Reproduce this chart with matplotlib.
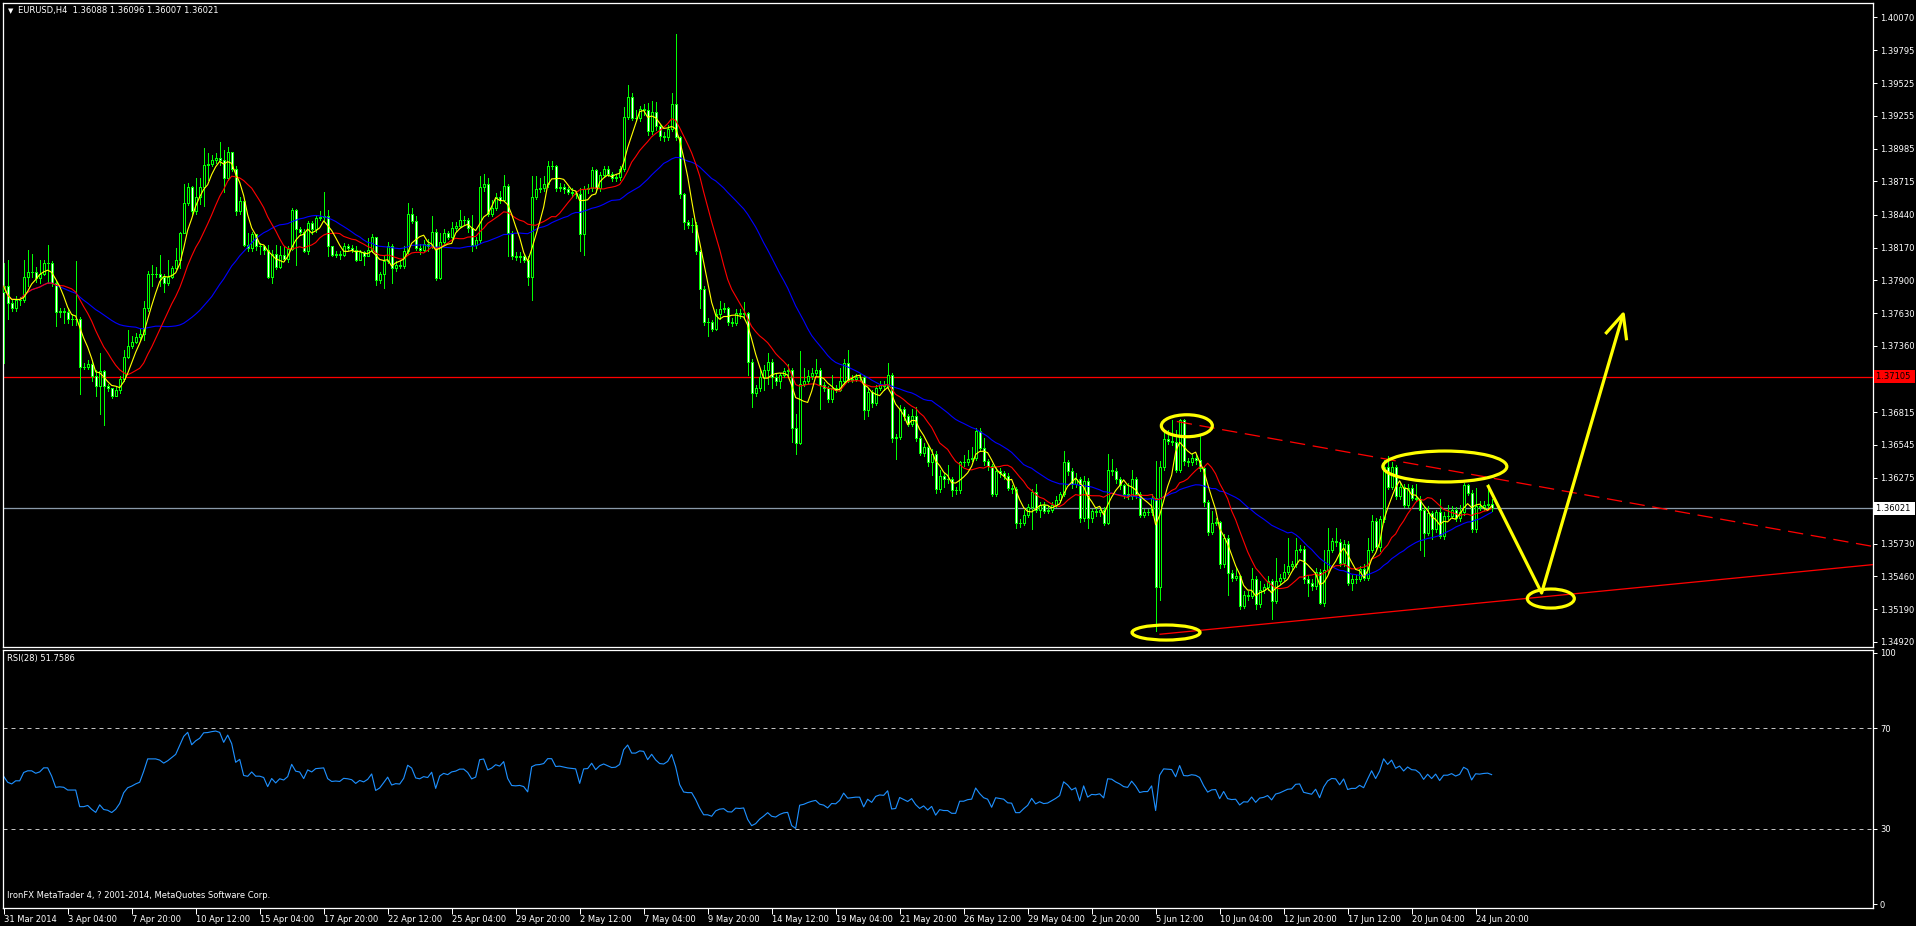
import numpy as np
import pandas as pd
import matplotlib
matplotlib.use('Agg')
import matplotlib.pyplot as plt
from matplotlib.patches import Ellipse
import matplotlib.transforms as mtransforms

# EURUSD H4 from 31 Mar 2014, prices in pips above 1.3000
first_open = 780
closes = [
    785, 771, 767, 774, 774, 793, 797, 797, 792, 795,
    804, 804, 788, 764, 765, 764, 758, 758, 758, 719,
    719, 721, 711, 703, 715, 703, 701, 695, 700, 709,
    727, 736, 739, 743, 746, 767, 795, 795, 795, 793,
    788, 793, 800, 807, 829, 854, 867, 847, 859, 867,
    885, 886, 889, 891, 889, 874, 896, 882, 847, 855,
    819, 817, 828, 818, 818, 815, 793, 812, 801, 811,
    808, 816, 848, 832, 830, 814, 837, 832, 841, 842,
    843, 818, 811, 812, 811, 818, 817, 815, 807, 813,
    810, 815, 826, 790, 795, 806, 818, 800, 803, 802,
    814, 845, 839, 817, 815, 820, 818, 830, 792, 822,
    829, 826, 833, 835, 840, 840, 833, 819, 823, 867,
    869, 845, 850, 859, 856, 868, 829, 810, 809, 810,
    807, 793, 859, 865, 866, 869, 884, 884, 866, 867,
    865, 863, 862, 861, 828, 865, 866, 881, 866, 877,
    882, 878, 874, 875, 882, 925, 941, 924, 924, 931,
    930, 913, 929, 917, 909, 908, 915, 935, 908, 861,
    838, 836, 836, 814, 783, 756, 756, 750, 762, 766,
    767, 756, 755, 763, 762, 763, 723, 697, 701, 710,
    716, 723, 710, 707, 712, 715, 716, 668, 656, 705,
    707, 711, 714, 716, 704, 701, 692, 701, 700, 707,
    722, 708, 709, 710, 710, 683, 698, 689, 701, 704,
    703, 712, 660, 661, 684, 678, 672, 678, 660, 648,
    653, 640, 647, 618, 629, 626, 626, 617, 617, 640,
    640, 643, 644, 666, 652, 641, 637, 614, 633, 631,
    629, 619, 618, 590, 590, 597, 603, 616, 601, 605,
    600, 601, 605, 609, 614, 640, 633, 622, 626, 594,
    625, 594, 600, 599, 601, 590, 634, 633, 626, 621,
    614, 612, 626, 614, 597, 599, 599, 611, 537, 636,
    659, 658, 657, 634, 675, 641, 640, 644, 642, 635,
    607, 583, 590, 591, 556, 578, 549, 545, 546, 522,
    531, 530, 544, 523, 535, 537, 542, 526, 542, 545,
    550, 555, 556, 568, 569, 544, 541, 538, 550, 524,
    551, 568, 575, 574, 557, 573, 541, 544, 544, 552,
    545, 568, 592, 570, 593, 636, 620, 636, 612, 620,
    605, 619, 611, 610, 601, 582, 598, 585, 599, 579,
    596, 596, 601, 594, 599, 621, 615, 585, 604, 603,
    605, 606, 602.1,
]
highs = [
    804, 807, 774, 777, 776, 807, 815, 812, 801, 807,
    807, 819, 806, 790, 767, 767, 767, 762, 806, 760,
    722, 724, 724, 716, 730, 716, 705, 701, 702, 711,
    733, 749, 744, 747, 750, 773, 798, 803, 801, 811,
    795, 807, 802, 817, 830, 869, 870, 868, 874, 874,
    899, 895, 893, 895, 904, 897, 900, 896, 884, 859,
    856, 829, 830, 828, 821, 819, 819, 815, 819, 818,
    818, 818, 850, 849, 834, 832, 839, 839, 844, 847,
    863, 848, 818, 814, 814, 821, 820, 819, 818, 815,
    814, 825, 828, 826, 797, 810, 822, 820, 806, 806,
    818, 854, 850, 843, 820, 823, 824, 843, 832, 829,
    832, 831, 838, 838, 848, 843, 841, 844, 826, 876,
    878, 874, 856, 862, 864, 877, 869, 831, 813, 813,
    812, 810, 876, 876, 874, 876, 888, 888, 885, 870,
    869, 867, 866, 864, 866, 868, 869, 883, 882, 879,
    884, 884, 879, 878, 884, 933, 951, 944, 930, 934,
    935, 936, 938, 937, 918, 912, 918, 944, 993, 909,
    862, 840, 841, 838, 815, 785, 759, 757, 766, 773,
    771, 768, 759, 766, 766, 772, 764, 725, 704, 716,
    720, 730, 725, 713, 714, 718, 721, 718, 680, 732,
    718, 716, 718, 725, 718, 706, 703, 712, 704, 718,
    725, 733, 712, 713, 713, 712, 701, 700, 704, 707,
    707, 722, 714, 663, 687, 686, 680, 684, 686, 662,
    656, 655, 651, 649, 634, 631, 638, 628, 620, 641,
    646, 650, 653, 668, 668, 660, 643, 639, 636, 635,
    633, 631, 621, 620, 593, 601, 606, 618, 622, 607,
    607, 604, 607, 612, 616, 649, 642, 635, 631, 628,
    629, 627, 602, 603, 603, 603, 647, 643, 635, 628,
    622, 623, 634, 628, 616, 602, 602, 614, 641, 641,
    666, 667, 675, 667, 676, 676, 644, 647, 646, 663,
    637, 609, 600, 594, 592, 581, 580, 551, 553, 547,
    534, 534, 553, 546, 542, 540, 546, 544, 561, 548,
    556, 578, 559, 578, 572, 571, 547, 544, 553, 552,
    568, 586, 578, 586, 577, 576, 575, 547, 547, 555,
    556, 578, 597, 594, 596, 642, 645, 640, 638, 623,
    622, 622, 621, 622, 612, 603, 604, 600, 601, 610,
    599, 605, 604, 603, 605, 623, 622, 617, 619, 608,
    608, 622, 609.6,
]
lows = [
    722, 758, 765, 765, 770, 772, 785, 793, 789, 788,
    794, 788, 785, 752, 760, 755, 755, 753, 753, 696,
    717, 717, 707, 695, 680, 671, 699, 693, 697, 697,
    707, 726, 734, 738, 741, 741, 765, 785, 793, 785,
    780, 786, 792, 799, 800, 829, 852, 844, 845, 853,
    851, 873, 884, 887, 885, 863, 873, 880, 844, 845,
    818, 814, 814, 815, 812, 812, 792, 788, 799, 800,
    806, 805, 815, 803, 827, 813, 812, 828, 830, 840,
    840, 810, 810, 809, 808, 810, 815, 813, 806, 807,
    803, 812, 813, 786, 788, 784, 804, 788, 798, 800,
    800, 812, 837, 815, 812, 814, 814, 817, 790, 791,
    820, 824, 825, 831, 834, 836, 830, 814, 817, 821,
    864, 843, 843, 848, 854, 855, 810, 808, 807, 805,
    805, 786, 774, 857, 863, 864, 867, 882, 864, 864,
    862, 861, 859, 858, 814, 811, 862, 864, 863, 864,
    875, 876, 872, 872, 873, 880, 923, 922, 921, 921,
    926, 910, 911, 914, 906, 905, 906, 913, 906, 858,
    832, 833, 830, 812, 767, 753, 744, 748, 749, 758,
    764, 753, 752, 753, 759, 760, 712, 686, 695, 699,
    700, 705, 701, 704, 701, 710, 712, 657, 647, 655,
    703, 705, 709, 712, 684, 699, 690, 690, 698, 699,
    705, 706, 706, 707, 707, 676, 678, 686, 687, 700,
    700, 701, 657, 643, 659, 675, 670, 670, 658, 646,
    645, 637, 630, 615, 616, 620, 623, 612, 614, 615,
    637, 638, 641, 642, 650, 638, 634, 612, 612, 628,
    626, 617, 615, 586, 587, 588, 595, 585, 599, 595,
    598, 598, 599, 603, 607, 612, 630, 619, 620, 591,
    592, 586, 591, 596, 596, 588, 589, 630, 623, 618,
    611, 610, 610, 611, 595, 595, 597, 597, 501, 527,
    634, 655, 654, 632, 632, 638, 637, 638, 639, 633,
    604, 580, 581, 588, 553, 554, 531, 542, 543, 519,
    520, 527, 528, 519, 521, 532, 535, 511, 524, 540,
    543, 548, 552, 554, 566, 541, 530, 535, 536, 523,
    522, 549, 566, 571, 555, 555, 539, 535, 541, 542,
    543, 543, 566, 568, 567, 591, 618, 618, 610, 610,
    603, 603, 609, 608, 568, 563, 580, 577, 583, 578,
    577, 593, 594, 592, 592, 597, 613, 583, 583, 601,
    601, 603, 600.1,
]

date_labels = ['31 Mar 2014', '3 Apr 04:00', '7 Apr 20:00', '10 Apr 12:00', '15 Apr 04:00',
               '17 Apr 20:00', '22 Apr 12:00', '25 Apr 04:00', '29 Apr 20:00', '2 May 12:00',
               '7 May 04:00', '9 May 20:00', '14 May 12:00', '19 May 04:00', '21 May 20:00',
               '26 May 12:00', '29 May 04:00', '2 Jun 20:00', '5 Jun 12:00', '10 Jun 04:00',
               '12 Jun 20:00', '17 Jun 12:00', '20 Jun 04:00', '24 Jun 20:00']
price_ticks = [1.40070, 1.39795, 1.39525, 1.39255, 1.38985, 1.38715, 1.38440, 1.38170, 1.37900,
               1.37630, 1.37360, 1.36815, 1.36545, 1.36275, 1.35730, 1.35460, 1.35190, 1.34920]
rsi_ticks = [0, 30, 70, 100]

# user drawn objects: (bar, price)
level_line = 1.37105
upper_trend = [(293.3, 1.36737), (399.1, 1.36111)]
lower_trend = [(289.1, 1.34984), (399.1, 1.35338)]
circles = [  # center bar, center price, width in bars, height in price
    (295.8, 1.36702, 12.75, 0.00181),
    (290.6, 1.34998, 17.0, 0.00124),
    (360.3, 1.36366, 31.0, 0.00255),
    (386.8, 1.35278, 11.75, 0.00157),
]
path_bars = [371, 384.5, 404.9]
path_prices = [1.36214, 1.35324, 1.37623]
head_bars = [400.7, 404.9, 405.7]
head_prices = [1.37468, 1.37623, 1.37419]

rsi_period = 28
rsi_seed = (5.5, 5.5)  # avg gain / avg loss carried in from bars left of the window

c = 1.3 + np.array(closes, dtype=float) / 1e4
h = 1.3 + np.array(highs, dtype=float) / 1e4
l = 1.3 + np.array(lows, dtype=float) / 1e4
o = np.concatenate([[1.3 + first_open / 1e4], c[:-1]])
x = np.arange(len(c))

s = pd.Series(c)
ma_fast = s.rolling(5, min_periods=1).mean()
ma_mid = s.rolling(13, min_periods=1).mean()
ma_slow = s.rolling(34, min_periods=1).mean()

ag, al = rsi_seed
rsi = []
for chg in (c - o) * 1e4:
    ag = (ag * (rsi_period - 1) + max(chg, 0)) / rsi_period
    al = (al * (rsi_period - 1) + max(-chg, 0)) / rsi_period
    rsi.append(100 * ag / (ag + al))

W, H = 1916, 926
fig = plt.figure(figsize=(W / 100, H / 100), dpi=100, facecolor='black')
ax = fig.add_axes([2.5 / W, 1 - 646.5 / H, 1870.5 / W, 644 / H], facecolor='black')
ax2 = fig.add_axes([2.5 / W, 1 - 907.5 / H, 1870.5 / W, 258 / H], facecolor='black')

lime = '#00ff00'
px = 0.72

# candles, drawn without smoothing like the terminal does
ax.vlines(x, l, h, color=lime, lw=px, zorder=2, antialiased=False)
face = np.where(c >= o, 'black', 'white')
bars = ax.bar(x, c - o, bottom=o, width=0.5, color=face, edgecolor=lime, linewidth=px, zorder=3)
for b in bars:
    b.set_antialiased(False)

ax.plot(x, ma_slow, color='#0000ff', lw=px + 0.1, zorder=4)
ax.plot(x, ma_mid, color='#ff0000', lw=px + 0.1, zorder=4)
ax.plot(x, ma_fast, color='#ffff00', lw=px + 0.1, zorder=4)

xmin, xmax = -0.3, 467.35
ax.axhline(level_line, color='#ff0000', lw=px + 0.2, zorder=1)
ax.axhline(c[-1], color='#8a9aaa', lw=px + 0.2, zorder=1)

for (x1, y1), (x2, y2), ls in [(upper_trend[0], upper_trend[1], (0, (12, 6))),
                               (lower_trend[0], lower_trend[1], '-')]:
    slope = (y2 - y1) / (x2 - x1)
    ax.plot([x1, xmax], [y1, y1 + slope * (xmax - x1)], color='#ff0000', lw=px + 0.2,
            linestyle=ls, zorder=5)

for cx, cy, w, hh in circles:
    ax.add_patch(Ellipse((cx, cy), w, hh, fill=False, edgecolor='#ffff00', lw=2.3, zorder=6))
ax.plot(path_bars, path_prices, color='#ffff00', lw=2.3, zorder=6, solid_capstyle='butt')
ax.plot(head_bars, head_prices, color='#ffff00', lw=2.3, zorder=6)

ax.set_xlim(xmin, xmax)
ax.set_ylim(1.348829, 1.401895)
ax.yaxis.tick_right()
ax.set_yticks(price_ticks)
ax.set_yticklabels(['%.5f' % v for v in price_ticks])
ax.tick_params(axis='y', length=3, width=px, color='white', labelcolor='white', labelsize=6, pad=2)
ax.set_xticks([])

trans = mtransforms.blended_transform_factory(ax.transAxes, ax.transData)
ax.text(1.0015, level_line, '%.5f ' % level_line, transform=trans, ha='left', va='center',
        fontsize=6, color='black', bbox=dict(boxstyle='square,pad=0.25', fc='#ff0000', ec='none'))
ax.text(1.0015, c[-1], '%.5f ' % c[-1], transform=trans, ha='left', va='center',
        fontsize=6, color='black', bbox=dict(boxstyle='square,pad=0.25', fc='white', ec='none'))

# RSI
ax2.plot(x, rsi, color='#1e90ff', lw=px + 0.1)
for lvl in (30, 70):
    ax2.axhline(lvl, color='#c0c0c0', lw=px, linestyle=(0, (4, 4)))
ax2.set_xlim(xmin, xmax)
ax2.set_ylim(-1.2, 101.2)
ax2.yaxis.tick_right()
ax2.set_yticks(rsi_ticks)
ax2.set_yticklabels([str(v) for v in rsi_ticks])
ax2.tick_params(axis='y', length=3, width=px, color='white', labelcolor='white', labelsize=6, pad=2)
ax2.set_xticks(np.arange(len(date_labels)) * 16)
ax2.set_xticklabels(date_labels, ha='left')
ax2.tick_params(axis='x', length=4, width=px, color='white', labelcolor='white', labelsize=6, pad=1.5)

for a in (ax, ax2):
    for sp in a.spines.values():
        sp.set_color('white')
        sp.set_linewidth(px + 0.2)

fig.text(8 / W, 1 - 11 / H, '\u25bc', color='white', fontsize=5, va='center', ha='left')
fig.text(18 / W, 1 - 11 / H, 'EURUSD,H4  1.36088 1.36096 1.36007 1.36021', color='white',
         fontsize=6, va='center', ha='left')
fig.text(7 / W, 1 - 658 / H, 'RSI(28) 51.7586', color='white', fontsize=6, va='center', ha='left')
fig.text(7 / W, 1 - 896 / H, 'IronFX MetaTrader 4, ? 2001-2014, MetaQuotes Software Corp.',
         color='white', fontsize=6, va='center', ha='left')

fig.savefig('out.png', dpi=100, facecolor='black')
